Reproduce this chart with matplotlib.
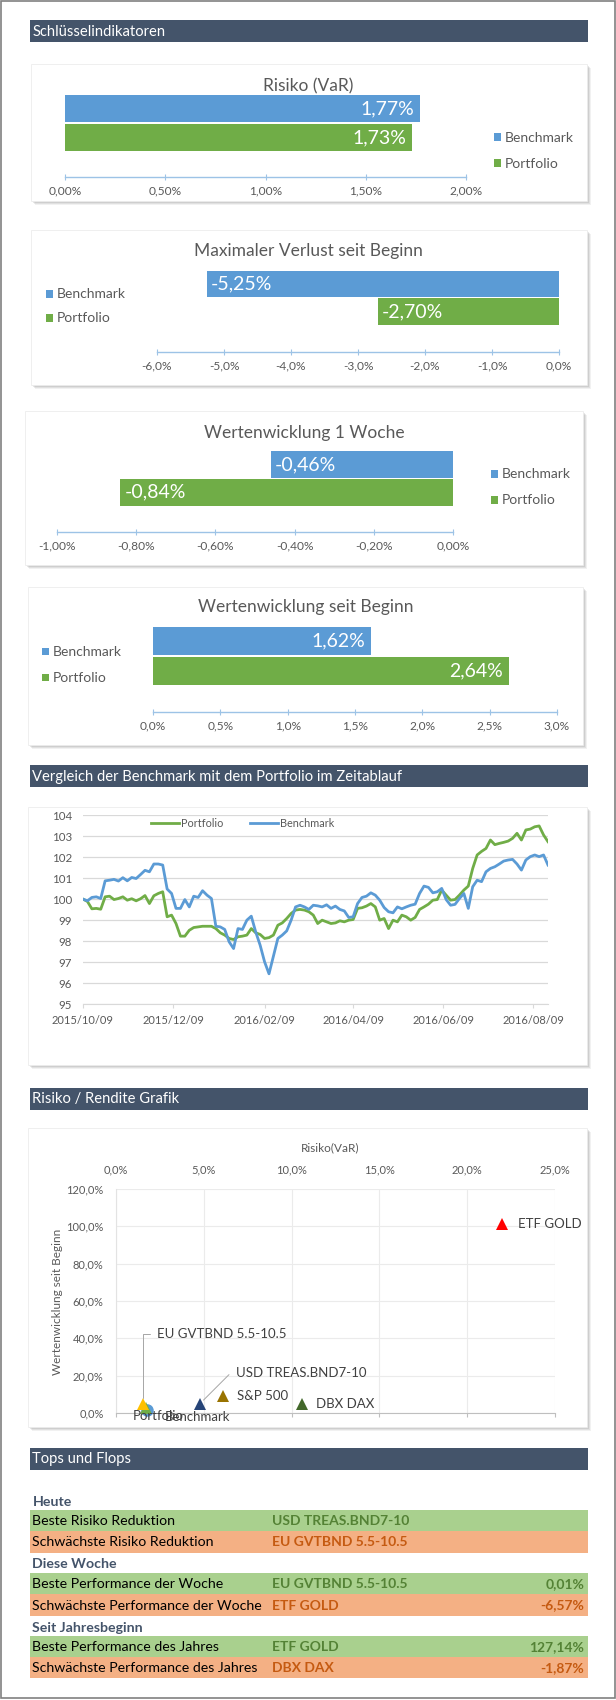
import numpy as np
import pandas as pd
import matplotlib
matplotlib.use("Agg")
import matplotlib.pyplot as plt
from matplotlib.patches import Rectangle
from matplotlib.lines import Line2D
import matplotlib.dates as mdates

plt.rcParams['font.family'] = ['Lato', 'DejaVu Sans']

# ---------------- data ----------------
series_names = ["Benchmark", "Portfolio"]
var_values = [1.77, 1.73]
maxloss_values = [-5.25, -2.70]
week_values = [-0.46, -0.84]
since_start_values = [1.62, 2.64]

ts_start = "2015-10-09"
ts_step_days = 3
portfolio_idx = [
    100.00, 99.89, 99.54, 99.56, 99.52, 100.11, 100.14, 99.98, 100.03, 100.11,
    99.95, 100.02, 99.92, 100.02, 100.17, 99.79, 100.16, 100.27, 100.35, 99.16,
    99.24, 98.84, 98.24, 98.24, 98.52, 98.65, 98.68, 98.71, 98.71, 98.71,
    98.60, 98.40, 98.29, 98.13, 98.08,
    98.21, 98.24, 98.29, 98.60, 98.40, 98.32, 98.13, 98.17, 98.29, 98.76,
    98.87, 99.08, 99.32, 99.48, 99.51, 99.48, 99.40, 99.24, 98.84, 99.00,
    98.92, 98.84, 98.87, 98.97, 98.92, 99.00, 99.03, 99.56, 99.59, 99.67,
    99.79, 99.63, 99.00, 99.08, 98.60,
    99.00, 98.92, 99.24, 99.16, 99.00, 99.13, 99.51, 99.63, 99.76, 99.95,
    99.98, 100.43, 100.19, 99.95, 99.98, 100.19, 100.43, 100.62, 101.46, 102.10,
    102.27, 102.41, 102.81, 102.59, 102.65, 102.70, 102.76, 102.89, 103.13, 102.81,
    103.29, 103.33, 103.44, 103.48, 103.05, 102.73]
benchmark_idx = [
    100.00, 99.92, 100.08, 100.11, 100.03, 100.87, 100.90, 100.94, 100.86, 101.02,
    100.87, 101.03, 100.98, 101.17, 101.37, 101.30, 101.67, 101.67, 101.62, 100.48,
    100.27, 99.56, 99.56, 99.98, 99.63, 100.14, 100.08, 100.40, 100.19, 100.03,
    98.71, 98.68, 98.56, 97.97, 97.65,
    98.60, 98.56, 99.00, 99.19, 98.44, 97.81, 97.02, 96.45, 97.29, 98.13,
    98.29, 98.49, 99.00, 99.63, 99.71, 99.63, 99.51, 99.71, 99.68, 99.63,
    99.73, 99.56, 99.67, 99.51, 99.44, 99.13, 99.16, 99.79, 100.08, 100.14,
    100.30, 100.19, 99.95, 99.60, 99.40,
    99.35, 99.63, 99.54, 99.63, 99.71, 99.76, 100.27, 100.62, 100.56, 100.30,
    100.35, 100.51, 99.98, 99.71, 99.75, 100.03, 100.27, 99.56, 100.59, 100.90,
    100.83, 101.30, 101.46, 101.54, 101.67, 101.81, 101.86, 101.89, 101.67, 101.38,
    101.86, 102.02, 102.10, 102.02, 102.10, 101.62]
date_ticks = ["2015-10-09", "2015-12-09", "2016-02-09", "2016-04-09", "2016-06-09", "2016-08-09"]

scatter_names = ["Benchmark", "Portfolio", "DBX DAX", "S&P 500", "USD TREAS.BND7-10",
                 "ETF GOLD", "EU GVTBND 5.5-10.5"]
scatter_risk = [1.77, 1.73, 10.6, 6.08, 4.76, 22.0, 1.56]
scatter_return = [1.62, 2.64, 4.8, 9.2, 4.8, 101.0, 4.8]

section_titles = ["Heute", "Diese Woche", "Seit Jahresbeginn"]
row_labels = ["Beste Risiko Reduktion", "Schwächste Risiko Reduktion",
              "Beste Performance der Woche", "Schwächste Performance der Woche",
              "Beste Performance des Jahres", "Schwächste Performance des Jahres"]
row_assets = ["USD TREAS.BND7-10", "EU GVTBND 5.5-10.5", "EU GVTBND 5.5-10.5",
              "ETF GOLD", "ETF GOLD", "DBX DAX"]
row_values = ["", "", "0,01%", "-6,57%", "127,14%", "-1,87%"]

# ---------------- styles ----------------
W, H = 616, 1700
BLUE = '#5B9BD5'
GREEN = '#70AD47'
HEAD = '#44546A'
TXT = '#595959'

fig = plt.figure(figsize=(W / 100, H / 100), dpi=100)
fig.patch.set_facecolor('white')


def fx(x):
    return x / W


def fy(y):
    return 1 - y / H


def add_ax(x0, y0, x1, y1):
    a = fig.add_axes([x0 / W, 1 - y1 / H, (x1 - x0) / W, (y1 - y0) / H])
    a.set_zorder(2)
    return a


def frect(x0, y0, x1, y1, zorder=-1, **kw):
    r = Rectangle((fx(x0), fy(y1)), (x1 - x0) / W, (y1 - y0) / H,
                  transform=fig.transFigure, zorder=zorder, **kw)
    fig.patches.append(r)
    return r


# outer border
frect(1, 1, 614.5, 1698, facecolor='none', edgecolor='#808080', lw=1.2, zorder=-5)


def header(y0, y1, text):
    frect(29.5, y0, 588, y1, facecolor=HEAD, edgecolor='none', zorder=-1)
    fig.text(fx(32.5), fy((y0 + y1) / 2 + 0.5), text, color='white', fontsize=10.6,
             va='center', ha='left')


def card(x0, y0, x1, y1):
    for i, a in [(4, 0.10), (3, 0.14), (2, 0.18), (1, 0.22)]:
        frect(x0 + i, y0 + i, x1 + i, y1 + i, facecolor='#7F7F7F', alpha=a,
              edgecolor='none', zorder=-3)
    frect(x0, y0, x1, y1, facecolor='white', edgecolor='#EDEDED', lw=0.6, zorder=-2)


def fmt_pct(v, dec):
    s = f"{v:.{dec}f}%".replace('.', ',')
    return s


def hbar(ax_x0, ax_x1, top_y, axis_y, cB, cP, bar_px, values, xlim, ticks, dec,
         title, title_xy, leg_x, leg_ys):
    ax = add_ax(ax_x0, top_y, ax_x1, axis_y)
    s = cP - cB
    lo = -(axis_y - cP) / s
    hi = lo + (axis_y - top_y) / s
    cats = [1, 0]
    ax.barh(cats, values, height=bar_px / s, color=[BLUE, GREEN], zorder=3)
    ax.set_ylim(lo, hi)
    ax.set_xlim(*xlim)
    for sp in ['top', 'left', 'right']:
        ax.spines[sp].set_visible(False)
    ax.spines['bottom'].set_color('#9DC3E6')
    ax.spines['bottom'].set_linewidth(1.0)
    ax.set_xticks(ticks)
    ax.set_xticklabels([fmt_pct(t, dec) for t in ticks])
    ax.tick_params(axis='x', direction='inout', length=5, color='#9DC3E6',
                   labelsize=8.6, labelcolor=TXT, pad=3.5)
    ax.set_yticks([])
    ax.patch.set_alpha(0)
    for v, c in zip(values, cats):
        if v > 0:
            ax.annotate(fmt_pct(v, 2), xy=(v, c), xytext=(-6, 0), textcoords='offset pixels',
                        ha='right', va='center', color='white', fontsize=14, zorder=5)
        else:
            ax.annotate(fmt_pct(v, 2), xy=(v, c), xytext=(4, 0), textcoords='offset pixels',
                        ha='left', va='center', color='white', fontsize=14, zorder=5)
    fig.text(fx(title_xy[0]), fy(title_xy[1]), title, ha='center', va='center',
             fontsize=12.5, color=TXT)
    for name, col, ly in zip(series_names, [BLUE, GREEN], leg_ys):
        frect(leg_x - 3.5, ly - 3.5, leg_x + 3.5, ly + 3.5, facecolor=col,
              edgecolor='none', zorder=1)
        fig.text(fx(leg_x + 8), fy(ly + 0.5), name, ha='left', va='center',
                 fontsize=10, color=TXT)
    return ax


# ---------------- section 1 ----------------
header(20, 42, "Schlüsselindikatoren")

card(31, 64, 587, 201)
hbar(65, 466, 90, 177, 108.5, 137.5, 27, var_values, (0, 2.0),
     [0, 0.5, 1.0, 1.5, 2.0], 2, "Risiko (VaR)", (308, 86), 497, (137, 163))

card(31, 230, 587, 385)
hbar(157, 559, 265, 352, 284, 311.5, 26.5, maxloss_values, (-6, 0),
     [-6, -5, -4, -3, -2, -1, 0], 1, "Maximaler Verlust seit Beginn", (308, 251),
     49, (294, 318))

card(25, 411, 583, 565)
hbar(57, 453, 445, 532, 464.5, 492, 27, week_values, (-1.0, 0),
     [-1.0, -0.8, -0.6, -0.4, -0.2, 0.0], 2, "Wertenwicklung 1 Woche", (304, 433),
     494, (474, 500))

card(28, 587, 583, 745)
hbar(153, 557, 620, 712, 641, 670.5, 28, since_start_values, (0, 3.0),
     [0, 0.5, 1.0, 1.5, 2.0, 2.5, 3.0], 1, "Wertenwicklung seit Beginn", (306, 607),
     45, (652, 677))

# ---------------- section 2: line chart ----------------
header(765, 787, "Vergleich der Benchmark mit dem Portfolio im Zeitablauf")
card(28, 807, 587, 1065)

dates = pd.date_range(ts_start, periods=len(portfolio_idx), freq=f"{ts_step_days}D")
ax = add_ax(83, 815, 548, 1004.3)
ax.plot(dates, portfolio_idx, color=GREEN, lw=2.0, zorder=3)
ax.plot(dates, benchmark_idx, color=BLUE, lw=2.0, zorder=4)
ax.set_ylim(95, 104)
ax.set_xlim(dates[0], dates[-1])
ax.set_yticks(range(95, 105))
ax.grid(axis='y', color='#D9D9D9', lw=0.9, zorder=0)
for sp in ['top', 'left', 'right']:
    ax.spines[sp].set_visible(False)
ax.spines['bottom'].set_color('#D9D9D9')
ax.set_xticks(pd.to_datetime(date_ticks))
ax.xaxis.set_major_formatter(mdates.DateFormatter('%Y/%m/%d'))
ax.tick_params(axis='x', direction='out', length=3, color='#D9D9D9', labelsize=8,
               labelcolor=TXT, pad=5)
ax.tick_params(axis='y', length=0, labelsize=8.3, labelcolor=TXT, pad=8)
ax.patch.set_alpha(0)

for name, col, x0, x1 in [("Portfolio", GREEN, 151, 179), ("Benchmark", BLUE, 250, 278)]:
    fig.lines.append(Line2D([fx(x0), fx(x1)], [fy(823), fy(823)], color=col, lw=2.0,
                            transform=fig.transFigure, zorder=3))
    fig.text(fx(x1 + 2), fy(823.5), name, ha='left', va='center', fontsize=7.8, color=TXT)

# ---------------- section 3: scatter ----------------
header(1088, 1110, "Risiko / Rendite Grafik")
card(28, 1128, 587, 1427)

sax = add_ax(116, 1189, 555, 1413)
sax.set_xlim(0, 25)
sax.set_ylim(0, 120)
xt = [0, 5, 10, 15, 20, 25]
yt = [0, 20, 40, 60, 80, 100, 120]
sax.set_xticks(xt)
sax.set_xticklabels([fmt_pct(t, 1) for t in xt])
sax.set_yticks(yt)
sax.set_yticklabels([fmt_pct(t, 1) for t in yt])
sax.grid(True, color='#EBEBEB', lw=0.8, zorder=0)
for sp in ['top', 'right']:
    sax.spines[sp].set_visible(False)
sax.spines['left'].set_color('#E3E3E3')
sax.spines['bottom'].set_color('#BFBFBF')
sax.tick_params(axis='x', bottom=True, top=False, labelbottom=False, labeltop=True,
                direction='out', length=3, color='#BFBFBF', labelsize=8,
                labelcolor=TXT, pad=7)
sax.tick_params(axis='y', length=0, labelsize=8, labelcolor=TXT, pad=9)
sax.patch.set_alpha(0)
fig.text(fx(330), fy(1148), "Risiko(VaR)", ha='center', va='center', fontsize=8.5, color=TXT)
fig.text(fx(58), fy(1302), "Wertenwicklung seit Beginn", ha='center', va='center',
         rotation=90, fontsize=8.5, color=TXT)

point_style = {
    "Benchmark": ('o', BLUE),
    "Portfolio": ('^', GREEN),
    "DBX DAX": ('^', '#43682B'),
    "S&P 500": ('^', '#997300'),
    "USD TREAS.BND7-10": ('^', '#264478'),
    "ETF GOLD": ('^', '#FF0000'),
    "EU GVTBND 5.5-10.5": ('^', '#FFC000'),
}
label_offset = {
    "Benchmark": (50, -7, 'center', None),
    "Portfolio": (12, -8, 'center', None),
    "DBX DAX": (14, 0, 'left', None),
    "S&P 500": (14, 0, 'left', None),
    "USD TREAS.BND7-10": (36, 31, 'left', 45),
    "ETF GOLD": (16, 0, 'left', None),
    "EU GVTBND 5.5-10.5": (14, 70, 'left', 90),
}
for i, (nm, rx, ry) in enumerate(zip(scatter_names, scatter_risk, scatter_return)):
    mk, col = point_style[nm]
    sax.plot([rx], [ry], marker=mk, color=col, ms=9, ls='none', zorder=5 + i,
             markeredgewidth=0, clip_on=False)
    dx, dy, ha, ang = label_offset[nm]
    if ang is None:
        sax.annotate(nm, xy=(rx, ry), xytext=(dx, dy), textcoords='offset pixels',
                     ha=ha, va='center', fontsize=9.5, color='#404040', zorder=20)
    else:
        sax.annotate(nm, xy=(rx, ry), xytext=(dx, dy), textcoords='offset pixels',
                     ha=ha, va='center', fontsize=9.5, color='#404040', zorder=20,
                     arrowprops=dict(arrowstyle='-', color='#A6A6A6', lw=0.7,
                                     shrinkA=3, shrinkB=4, relpos=(0, 0.5),
                                     connectionstyle=f"angle,angleA=0,angleB={ang},rad=0"))

# ---------------- section 4: table ----------------
header(1448, 1470, "Tops und Flops")
sec_y = [1501, 1564, 1627]
row_y = [(1510, 1531), (1531, 1553), (1573, 1594), (1594, 1616), (1636, 1657), (1657, 1678)]
for t, y in zip(section_titles, sec_y):
    fig.text(fx(32.5), fy(y + 0.5), t, ha='left', va='center', fontsize=10.2,
             fontweight='bold', color=HEAD)
for i, ((y0, y1), lab, asset, val) in enumerate(zip(row_y, row_labels, row_assets, row_values)):
    good = (i % 2 == 0)
    fill = '#A9D08E' if good else '#F4B084'
    tcol = '#548235' if good else '#C55A11'
    frect(29.5, y0, 588, y1, facecolor=fill, edgecolor='none', zorder=-1)
    yc = (y0 + y1) / 2 + 0.5
    fig.text(fx(32.5), fy(yc), lab, ha='left', va='center', fontsize=10.2, color='black')
    fig.text(fx(272), fy(yc), asset, ha='left', va='center', fontsize=10,
             fontweight='bold', color=tcol)
    if val:
        fig.text(fx(584), fy(yc), val, ha='right', va='center', fontsize=10,
                 fontweight='bold', color=tcol)

fig.savefig("out.png", dpi=100, facecolor='white')
